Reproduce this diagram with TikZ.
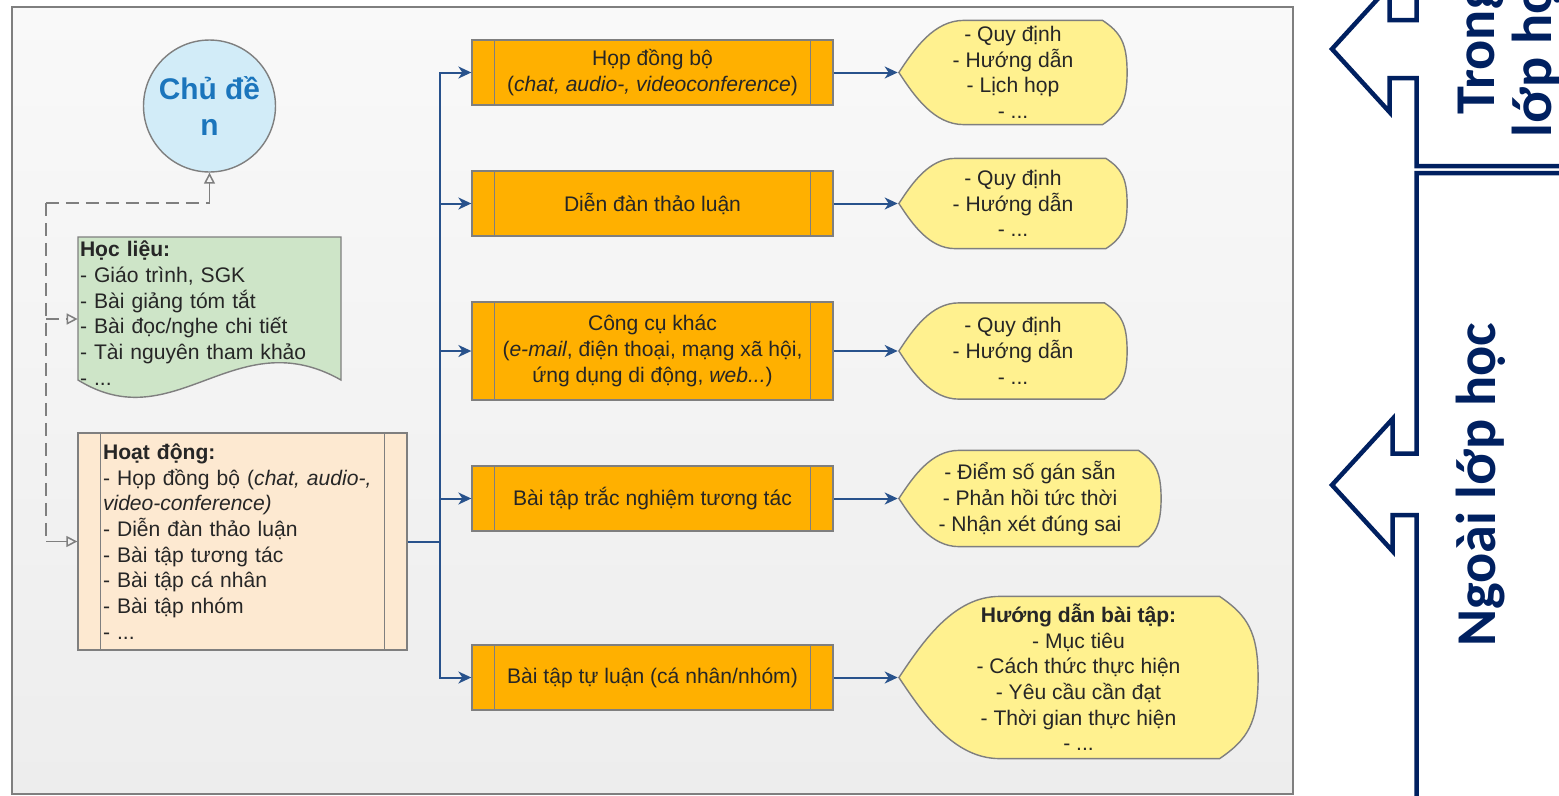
\documentclass[tikz,border=0pt]{standalone}
\usepackage{fontspec}
\setmainfont{Liberation Sans}
\newfontfamily\sidefont{Carlito}
\usetikzlibrary{arrows.meta}
\usetikzlibrary{calc}
\definecolor{linegray}{RGB}{127,127,127}
\definecolor{topicblue}{RGB}{210,236,248}
\definecolor{topictext}{RGB}{27,117,188}
\definecolor{docgreen}{RGB}{206,229,200}
\definecolor{actpeach}{RGB}{253,233,209}
\definecolor{procorange}{RGB}{255,176,0}
\definecolor{tagyellow}{RGB}{255,241,143}
\definecolor{flowblue}{RGB}{40,82,140}
\definecolor{sidenavy}{RGB}{0,32,96}
\definecolor{bgtop}{RGB}{249,249,249}
\definecolor{bgbot}{RGB}{237,237,237}
\definecolor{textdark}{RGB}{38,38,38}
\newcommand{\bodysize}{\fontsize{12}{14.6}\selectfont}
\tikzset{>=latex}
\tikzset{
  topic/.style={circle, draw=linegray, fill=topicblue, line width=0.8pt,
    minimum size=2.64cm, inner sep=0pt, align=center, text=topictext,
    font=\bfseries\fontsize{17}{20.5}\selectfont},
  textbox/.style={inner ysep=0pt, inner xsep=0.04cm, align=left,
    text=textdark, font=\bodysize},
  proc/.style={draw=linegray, fill=procorange, line width=0.8pt,
    minimum width=7.22cm, inner sep=0pt, align=center, text=textdark,
    font=\bodysize,
    path picture={
      \draw[linegray, line width=0.8pt]
        ([xshift=0.45cm]path picture bounding box.north west) --
        ([xshift=0.45cm]path picture bounding box.south west)
        ([xshift=-0.45cm]path picture bounding box.north east) --
        ([xshift=-0.45cm]path picture bounding box.south east);
    }},
  tag/.style={align=center, inner sep=0pt, text=textdark, font=\bodysize,
    path picture={
      \filldraw[fill=tagyellow, draw=linegray, line width=0.8pt]
        let \p1=(path picture bounding box.south west),
            \p2=(path picture bounding box.north east),
            \n1={\y2-\y1}, \n2={0.62*(\y2-\y1)}, \n3={0.24*(\y2-\y1)}
        in (\x1+0.5pt,\y1+0.5*\n1)
        .. controls (\x1+0.25*\n2,\y1+0.725*\n1) and (\x1+0.55*\n2,\y2-0.5pt) .. (\x1+\n2,\y2-0.5pt)
        -- (\x2-\n3,\y2-0.5pt)
        .. controls (\x2-0.3*\n3,\y2-0.12*\n1) and (\x2-0.5pt,\y1+0.78*\n1) .. (\x2-0.5pt,\y1+0.5*\n1)
        .. controls (\x2-0.5pt,\y1+0.22*\n1) and (\x2-0.3*\n3,\y1+0.12*\n1) .. (\x2-\n3,\y1+0.5pt)
        -- (\x1+\n2,\y1+0.5pt)
        .. controls (\x1+0.55*\n2,\y1+0.5pt) and (\x1+0.25*\n2,\y1+0.275*\n1) .. cycle;
    }},
  depend/.style={draw=linegray, line width=0.03cm, dash pattern=on 0.26cm off 0.14cm},
  deptip/.style={-{Triangle[open, length=0.22cm, width=0.22cm]}},
  trunkline/.style={draw=flowblue, line width=0.04cm},
  flow/.style={trunkline, -{Stealth[length=0.26cm, width=0.24cm, inset=0.08cm]}},
  sidearrow/.style={draw=sidenavy, line width=0.09cm, line join=miter},
  sidetext/.style={inner sep=0pt, align=center, text=sidenavy,
    font=\sidefont\bfseries\fontsize{32}{32.5}\selectfont}
}

\begin{document}
\begin{tikzpicture}[x=0.02cm, y=-0.02cm]
  \useasboundingbox (0,0) rectangle (1559,795);
  \clip (0,0) rectangle (1559,795);
  \fill[white] (0,0) rectangle (1559,795);
  \draw[linegray, line width=1.2pt, top color=bgtop, bottom color=bgbot] (12,7) rectangle (1293,794);

  \node[topic] (topic) at (209.5,106) {Chủ đề\\n};

  \filldraw[fill=docgreen, draw=linegray, line width=0.8pt]
    (78,237) -- (341,237) -- (341,380) .. controls (235,320) and (175,440) .. (78,380) -- cycle;
  \node[textbox, text width=5.18cm, minimum width=5.26cm, minimum height=3.16cm] (hoclieu) at (209.5,313)
    {\textbf{Học liệu:}\\- Giáo trình, SGK\\- Bài giảng tóm tắt\\- Bài đọc/nghe chi tiết\\- Tài nguyên tham khảo\\- ...};

  \node[proc, fill=actpeach, align=left, text width=5.58cm, inner xsep=0.5cm,
        minimum width=6.58cm, minimum height=4.34cm] (hoatdong) at (242.5,541.5)
    {\textbf{Hoạt động:}\\- Họp đồng bộ (\textit{chat, audio-,}\\\textit{video-conference)}\\- Diễn đàn thảo luận\\- Bài tập tương tác\\- Bài tập cá nhân\\- Bài tập nhóm\\- ...};

  \node[proc, minimum height=1.3cm] (kenh1) at (652.5,72.5)
    {Họp đồng bộ\\(\textit{chat, audio-, videoconference})};
  \node[proc, minimum height=1.3cm] (kenh2) at (652.5,203.5) {Diễn đàn thảo luận};
  \node[proc, minimum height=1.96cm] (kenh3) at (652.5,351)
    {Công cụ khác\\(\textit{e-mail}, điện thoại, mạng xã hội,\\ứng dụng di động, \textit{web...})};
  \node[proc, minimum height=1.3cm] (kenh4) at (652.5,498.5) {Bài tập trắc nghiệm tương tác};
  \node[proc, minimum height=1.3cm] (kenh5) at (652.5,677.5) {Bài tập tự luận (cá nhân/nhóm)};

  \node[tag, minimum width=4.6cm, minimum height=2.12cm] (ghichu1) at (1013,72.5)
    {- Quy định\\- Hướng dẫn\\- Lịch họp\\- ...};
  \node[tag, minimum width=4.6cm, minimum height=1.84cm] (ghichu2) at (1013,203.5)
    {- Quy định\\- Hướng dẫn\\- ...};
  \node[tag, minimum width=4.6cm, minimum height=1.96cm] (ghichu3) at (1013,351)
    {- Quy định\\- Hướng dẫn\\- ...};
  \node[tag, minimum width=5.28cm, minimum height=1.96cm] (ghichu4) at (1030,498.5)
    {- Điểm số gán sẵn\\- Phản hồi tức thời\\- Nhận xét đúng sai};
  \node[tag, minimum width=7.22cm, minimum height=3.28cm] (ghichu5) at (1078.5,677.5)
    {\textbf{Hướng dẫn bài tập:}\\- Mục tiêu\\- Cách thức thực hiện\\- Yêu cầu cần đạt\\- Thời gian thực hiện\\- ...};

  \coordinate (jt) at (46,203);
  \coordinate (jc) at (209.5,203);
  \coordinate (jb) at (46,541.5);
  \draw[depend] (jt) -- (jc);
  \draw[depend, solid, deptip] (jc) -- (topic.south);
  \draw[depend] (jt) -- (jb);
  \draw[depend, solid, deptip] (jb) -- (hoatdong.west);
  \draw[depend, deptip] (jt |- 0,319) -- (hoclieu.west |- 0,319);

  \coordinate (trunk) at (440,541.5);
  \draw[trunkline] (hoatdong.east) -- (trunk);
  \foreach \i in {1,...,5} {
    \draw[flow] (trunk) |- (kenh\i.west);
    \draw[flow] (kenh\i.east) -- (ghichu\i.west);
  }

  \draw[sidearrow] (1559,166) -- (1416.5,166) -- (1416.5,78) -- (1389.5,78) -- (1389.5,112)
    -- (1332,49) -- (1389.5,-14) -- (1389.5,20) -- (1416.5,20) -- (1416.5,-30);
  \draw[sidearrow] (1559,173) -- (1416.5,173) -- (1416.5,453.5) -- (1392.5,453.5) -- (1392.5,419)
    -- (1332,485) -- (1392.5,551) -- (1392.5,515) -- (1416.5,515) -- (1416.5,820);
  \node[sidetext, rotate=90] (trong) at (1510,49) {Trong\\lớp học};
  \node[sidetext, rotate=90] (ngoai) at (1481,485) {Ngoài lớp học};
\end{tikzpicture}
\end{document}
